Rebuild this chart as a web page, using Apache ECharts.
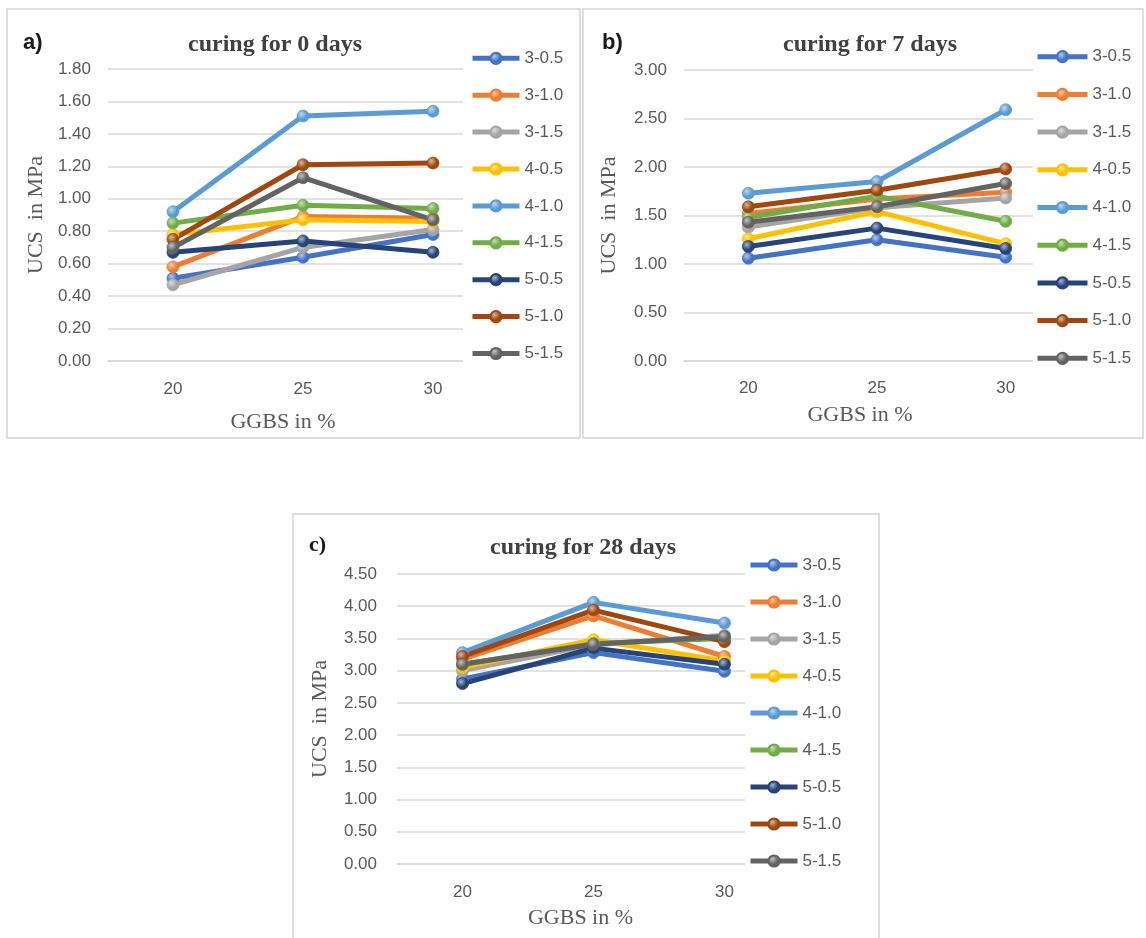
<!DOCTYPE html>
<html><head><meta charset="utf-8">
<script src="https://cdn.jsdelivr.net/npm/echarts@6/dist/echarts.min.js"></script>
<style>html,body{margin:0;padding:0;background:#fff}#c{width:1146px;height:938px}</style>
</head><body><div id="c"></div>
<script>
// ---- data ----
const categories = ['20', '25', '30'];
const seriesNames = ['3-0.5', '3-1.0', '3-1.5', '4-0.5', '4-1.0', '4-1.5', '5-0.5', '5-1.0', '5-1.5'];
const panelTitles = ['curing for 0 days', 'curing for 7 days', 'curing for 28 days'];
const panelLetters = ['a)', 'b)', 'c)'];
const xAxisTitle = 'GGBS in %';
const yAxisTitle = 'UCS  in MPa';
const yMax = [1.8, 3.0, 4.5];
const yStep = [0.2, 0.5, 0.5];
// UCS (MPa) per series, values at GGBS 20 / 25 / 30 %
const ucsDay0 = [
  [0.51, 0.64, 0.78],
  [0.58, 0.89, 0.88],
  [0.47, 0.70, 0.81],
  [0.78, 0.87, 0.86],
  [0.92, 1.51, 1.54],
  [0.85, 0.96, 0.94],
  [0.67, 0.74, 0.67],
  [0.75, 1.21, 1.22],
  [0.70, 1.13, 0.87]
];
const ucsDay7 = [
  [1.06, 1.25, 1.07],
  [1.52, 1.67, 1.74],
  [1.38, 1.58, 1.68],
  [1.26, 1.54, 1.21],
  [1.73, 1.85, 2.59],
  [1.48, 1.70, 1.44],
  [1.18, 1.37, 1.16],
  [1.59, 1.76, 1.98],
  [1.43, 1.59, 1.83]
];
const ucsDay28 = [
  [2.87, 3.28, 2.99],
  [3.18, 3.85, 3.22],
  [3.00, 3.40, 3.55],
  [3.05, 3.48, 3.15],
  [3.28, 4.06, 3.74],
  [3.10, 3.42, 3.50],
  [2.80, 3.35, 3.10],
  [3.22, 3.94, 3.45],
  [3.10, 3.41, 3.53]
];
const panelData = [ucsDay0, ucsDay7, ucsDay28];

// ---- styling / layout ----
const colors = ['#4472C4', '#ED7D31', '#A5A5A5', '#FFC000', '#5B9BD5', '#70AD47', '#264478', '#9E480E', '#636363'];
const layout = [
  { box: [7, 9, 573, 429], grid: { left: 108, top: 69, width: 390, height: 292 }, letter: [23, 43, 'sans'], title: [275, 45],
    legend: { left: 463, top: 49.8, padL: 7, step: 36.9, iw: 47 }, xNameGap: 61, xShift: -20, yNameGap: 72, labelMargin: 17, xLabelMargin: 20 },
  { box: [583, 9, 560, 429], grid: { left: 684, top: 70, width: 386, height: 291 }, letter: [602, 43, 'sans'], title: [870, 45],
    legend: { left: 1033, top: 48.2, padL: 2, step: 37.7, iw: 50 }, xNameGap: 54, xShift: -17, yNameGap: 75, labelMargin: 17, xLabelMargin: 19 },
  { box: [293, 514, 586, 440], grid: { left: 397, top: 574, width: 393, height: 290 }, letter: [309, 545, 'serif'], title: [583, 548],
    legend: { left: 745, top: 556.5, padL: 3, step: 37, iw: 47 }, xNameGap: 54, xShift: -13, yNameGap: 77, labelMargin: 20, xLabelMargin: 20 }
];
const legendItemH = 17;

function lighten(hex, t) {
  const n = parseInt(hex.slice(1), 16);
  let r = (n >> 16) & 255, g = (n >> 8) & 255, b = n & 255;
  r = Math.round(r + (255 - r) * t); g = Math.round(g + (255 - g) * t); b = Math.round(b + (255 - b) * t);
  return 'rgb(' + r + ',' + g + ',' + b + ')';
}
function markerFill(c) {
  return { type: 'radial', x: 0.38, y: 0.35, r: 0.75,
    colorStops: [{ offset: 0, color: lighten(c, 0.6) }, { offset: 0.55, color: c }, { offset: 1, color: c }] };
}

const grid = [], xAxis = [], yAxis = [], series = [], legend = [], title = [], graphic = [];
layout.forEach((L, p) => {
  graphic.push({ type: 'rect', shape: { x: L.box[0], y: L.box[1], width: L.box[2], height: L.box[3] },
    style: { fill: 'none', stroke: '#d4d4d4', lineWidth: 1.5 }, z: -10 });
  grid.push(Object.assign({ containLabel: false }, L.grid));
  xAxis.push({
    type: 'category', gridIndex: p, data: categories, boundaryGap: true,
    axisLine: { lineStyle: { color: '#d9d9d9', width: 1.5 } }, axisTick: { show: false },
    axisLabel: { color: '#595959', fontSize: 17, fontFamily: 'Liberation Sans', margin: L.xLabelMargin },
    name: xAxisTitle, nameLocation: 'middle', nameGap: L.xNameGap,
    nameTextStyle: { color: '#595959', fontSize: 22, fontFamily: 'Liberation Serif', verticalAlign: 'middle',
      padding: [0, -2 * L.xShift, 0, 0] }
  });
  yAxis.push({
    type: 'value', gridIndex: p, min: 0, max: yMax[p], interval: yStep[p],
    axisLine: { show: false }, axisTick: { show: false },
    splitLine: { lineStyle: { color: '#d9d9d9', width: 1.5 } },
    axisLabel: { color: '#595959', fontSize: 17, fontFamily: 'Liberation Sans', margin: L.labelMargin,
      formatter: v => v.toFixed(2) },
    name: yAxisTitle, nameLocation: 'middle', nameGap: L.yNameGap, nameRotate: 90,
    nameTextStyle: { color: '#595959', fontSize: 22, fontFamily: 'Liberation Serif', verticalAlign: 'middle' }
  });
  title.push({
    text: panelTitles[p], left: L.title[0], top: L.title[1], textAlign: 'center', textVerticalAlign: 'middle', padding: 0,
    textStyle: { fontFamily: 'Liberation Serif', fontWeight: 'bold', fontSize: 24, color: '#404040' }
  });
  title.push({
    text: panelLetters[p], left: L.letter[0], top: L.letter[1], textAlign: 'left', textVerticalAlign: 'middle', padding: 0,
    textStyle: { fontFamily: L.letter[2] === 'serif' ? 'Liberation Serif' : 'Liberation Sans', fontWeight: 'bold', fontSize: 22, color: '#1a1a1a' }
  });
  const ids = seriesNames.map(n => n + ' #' + p);
  legend.push({
    orient: 'vertical', left: L.legend.left, top: L.legend.top, padding: [0, 6, 5, L.legend.padL],
    backgroundColor: '#fff', itemWidth: L.legend.iw, itemHeight: 14, itemGap: L.legend.step - legendItemH,
    textStyle: { color: '#595959', fontSize: 17, fontFamily: 'Liberation Sans' },
    lineStyle: { width: 5 },
    formatter: name => name.split(' #')[0],
    data: ids, selectedMode: false
  });
  panelData[p].forEach((vals, i) => {
    series.push({
      type: 'line', name: ids[i], xAxisIndex: p, yAxisIndex: p, data: vals,
      symbol: 'circle', symbolSize: 12,
      lineStyle: { color: colors[i], width: 5 },
      itemStyle: { color: markerFill(colors[i]), borderColor: colors[i], borderWidth: 0.8 },
      emphasis: { disabled: true }, silent: true
    });
  });
});

const chart = echarts.init(document.getElementById('c'), null, { renderer: 'canvas' });
chart.setOption({ backgroundColor: '#fff', animation: false, grid, xAxis, yAxis, series, legend, title, graphic });
</script>
</body></html>
